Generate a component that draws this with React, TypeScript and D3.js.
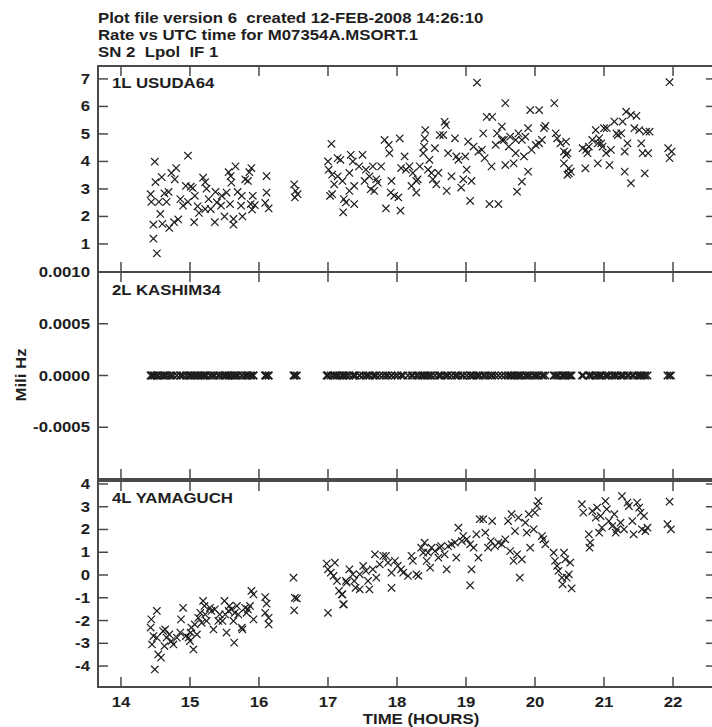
import React from "react";
import * as d3 from "d3";

// ---- data ----
const titleLines = [
  "Plot file version 6  created 12-FEB-2008 14:26:10",
  "Rate vs UTC time for M07354A.MSORT.1",
  "SN 2  Lpol  IF 1",
];
const hourTicks = [14, 15, 16, 17, 18, 19, 20, 21, 22];
const usudaTicks = [1, 2, 3, 4, 5, 6, 7];
const kashimaTicks = [-0.0005, 0, 0.0005, 0.001];
const yamaguchTicks = [-4, -3, -2, -1, 0, 1, 2, 3, 4];

// [UTC hours, mHz]
const usuda64: [number, number][] = [
  [14.49, 3.99], [14.5, 3.25], [14.59, 3.43], [14.43, 2.81], [14.44, 2.53], [14.55, 2.53],
  [14.57, 2.09], [14.47, 1.7], [14.6, 1.73], [14.47, 1.19], [14.52, 0.66], [14.63, 2.84],
  [14.69, 2.89], [14.66, 2.53], [14.7, 1.58], [14.77, 1.79], [14.83, 1.89], [14.73, 3.58],
  [14.8, 3.76], [14.78, 3.35], [14.86, 2.63], [14.9, 2.39], [14.97, 4.21], [14.94, 3.11],
  [15.01, 3.08], [15.04, 3.03], [14.97, 2.53], [15.07, 2.75], [15.06, 1.79], [15.11, 2.37],
  [15.13, 2.13], [15.19, 3.41], [15.22, 3.25], [15.24, 3.01], [15.27, 2.63], [15.22, 2.27],
  [15.3, 2.27], [15.36, 1.79], [15.37, 2.89], [15.39, 2.51], [15.45, 2.39], [15.46, 2.75],
  [15.5, 2.0], [15.53, 2.87], [15.56, 3.61], [15.59, 3.47], [15.66, 3.82], [15.6, 3.23],
  [15.58, 2.45], [15.63, 1.91], [15.63, 1.7], [15.69, 2.89], [15.75, 2.75], [15.74, 2.39],
  [15.76, 2.0], [15.8, 3.35], [15.84, 3.29], [15.86, 3.61], [15.89, 3.76], [15.91, 2.75],
  [15.9, 2.25], [15.94, 2.41], [15.88, 2.45], [16.11, 3.47], [16.11, 2.87], [16.09, 2.49],
  [16.14, 2.29], [16.51, 3.17], [16.53, 2.93], [16.52, 2.69], [16.56, 2.81],
  [17.05, 4.64], [17.0, 4.0], [17.01, 3.7], [17.06, 3.52], [17.09, 3.17], [17.06, 2.81],
  [17.03, 2.75], [17.14, 4.12], [17.18, 4.06], [17.14, 3.46], [17.21, 3.29], [17.23, 2.63],
  [17.26, 2.51], [17.22, 2.15], [17.33, 4.24], [17.36, 4.0], [17.31, 3.58], [17.38, 3.11],
  [17.31, 2.93], [17.38, 2.45], [17.5, 4.24], [17.45, 3.82], [17.55, 3.7], [17.53, 3.29],
  [17.6, 3.46], [17.65, 3.82], [17.7, 3.35], [17.72, 3.23], [17.67, 2.93], [17.62, 2.99],
  [17.77, 3.82], [17.82, 4.78], [17.88, 4.6], [17.89, 4.3], [17.84, 2.29], [17.92, 3.29],
  [17.91, 2.87], [17.96, 2.75], [18.02, 2.69], [18.04, 4.84], [18.05, 2.21], [18.06, 3.76],
  [18.11, 4.18], [18.13, 3.7], [18.18, 3.82], [18.23, 3.58], [18.21, 3.11], [18.28, 3.29],
  [18.28, 2.87], [18.3, 3.35], [18.33, 3.82], [18.38, 4.3], [18.4, 4.84], [18.41, 5.14],
  [18.39, 4.54], [18.47, 4.06], [18.5, 3.58], [18.52, 3.35], [18.45, 3.7], [18.55, 4.48],
  [18.57, 3.17], [18.6, 3.58], [18.62, 4.96], [18.67, 4.96], [18.69, 5.44], [18.71, 5.32],
  [18.72, 2.93], [18.74, 4.3], [18.79, 3.46], [18.84, 4.84], [18.86, 4.18], [18.89, 4.06],
  [18.93, 3.05], [18.96, 3.35], [18.99, 4.18], [19.01, 3.7], [19.03, 4.72], [19.06, 2.57],
  [19.08, 3.29], [19.11, 4.54], [19.16, 6.87], [19.18, 4.36], [19.23, 4.42], [19.25, 5.02],
  [19.27, 4.12], [19.3, 5.62], [19.34, 2.45], [19.38, 5.62], [19.37, 3.82], [19.43, 4.6],
  [19.45, 5.02], [19.47, 2.45],
  [19.57, 6.12], [19.52, 5.27], [19.55, 4.78], [19.62, 4.54], [19.64, 4.9], [19.72, 4.78],
  [19.76, 5.02], [19.81, 4.78], [19.86, 4.9], [19.93, 5.87], [20.06, 5.87], [19.9, 5.21],
  [20.01, 4.6], [20.06, 4.66], [20.13, 5.21], [20.15, 5.29], [20.1, 4.78], [19.95, 4.42],
  [19.9, 3.63], [19.81, 3.27], [19.74, 2.9], [19.72, 4.3], [19.84, 4.18], [19.69, 3.93],
  [19.57, 3.87], [19.52, 4.78], [20.28, 6.12], [20.3, 5.02], [20.32, 4.84], [20.37, 4.66],
  [20.45, 4.72], [20.42, 4.36], [20.45, 4.24], [20.47, 4.3], [20.42, 3.93], [20.49, 3.75],
  [20.49, 3.57], [20.47, 3.51], [20.52, 3.63], [20.73, 3.75], [20.69, 4.48], [20.74, 4.42],
  [20.76, 4.3], [20.78, 4.54], [20.83, 4.78], [20.88, 5.14], [20.91, 4.66], [20.93, 4.84],
  [20.96, 4.66], [21.0, 5.21], [21.04, 5.21], [20.98, 4.54], [21.03, 4.3], [20.91, 3.93],
  [21.08, 3.87], [21.1, 4.42], [21.15, 5.45], [21.18, 5.02], [21.2, 4.96], [21.25, 5.02],
  [21.27, 5.45], [21.32, 5.81], [21.39, 5.69], [21.47, 5.66], [21.3, 4.36], [21.34, 4.66],
  [21.39, 3.21], [21.3, 3.63], [21.44, 5.21], [21.51, 5.14], [21.54, 4.66], [21.56, 4.3],
  [21.59, 3.57], [21.61, 5.08], [21.64, 4.3], [21.66, 5.08], [21.93, 4.48], [21.95, 4.12],
  [21.98, 4.36], [21.95, 6.88],
];

const yamaguch: [number, number][] = [
  [14.52, -1.58], [14.44, -1.95], [14.43, -2.31], [14.47, -2.68], [14.45, -3.05], [14.52, -2.75],
  [14.54, -3.49], [14.58, -3.63], [14.49, -4.15], [14.61, -2.46], [14.64, -2.39], [14.66, -2.75],
  [14.7, -2.61], [14.73, -2.9], [14.76, -3.05], [14.63, -3.12], [14.81, -2.75], [14.86, -2.53],
  [14.87, -1.95], [14.9, -1.44], [14.94, -2.68], [14.98, -2.75], [15.0, -2.9], [15.01, -2.53],
  [15.05, -3.27], [15.02, -2.31], [15.07, -2.17], [15.1, -2.61], [15.12, -1.88], [15.15, -1.66],
  [15.17, -2.1], [15.19, -1.14], [15.21, -1.36], [15.22, -1.73], [15.24, -2.02], [15.29, -1.44],
  [15.31, -1.58], [15.34, -2.39], [15.36, -1.51], [15.41, -2.02], [15.43, -1.73], [15.5, -1.14],
  [15.47, -2.02], [15.51, -1.73], [15.53, -2.53], [15.56, -1.58], [15.57, -1.36], [15.6, -1.51],
  [15.63, -2.02], [15.64, -2.97], [15.65, -1.66], [15.68, -1.36], [15.7, -1.73], [15.75, -2.31],
  [15.76, -2.39], [15.8, -1.44], [15.82, -1.66], [15.84, -1.51], [15.87, -1.36], [15.89, -0.7],
  [15.92, -0.85], [15.92, -1.95], [16.09, -0.97], [16.11, -1.26], [16.09, -1.66], [16.14, -1.88],
  [16.14, -2.17], [16.5, -0.12], [16.52, -1.0], [16.55, -1.03], [16.51, -1.55],
  [17.0, -1.66], [16.98, 0.5], [17.0, 0.25], [17.04, 0.1], [17.08, -0.04], [17.1, 0.54],
  [17.13, -0.26], [17.16, -0.7], [17.22, -1.29], [17.2, -0.85], [17.27, -0.34],
  [17.21, -0.85], [17.23, -1.29], [17.26, -0.26], [17.31, 0.25], [17.36, 0.03], [17.38, -0.26],
  [17.4, -0.56], [17.46, 0.03], [17.46, -0.63], [17.51, 0.4], [17.55, 0.18], [17.58, -0.26],
  [17.6, -0.63], [17.65, 0.25], [17.68, 0.91], [17.7, -0.12], [17.75, 0.47], [17.8, 0.84],
  [17.84, 0.84], [17.87, 0.54], [17.92, -0.56], [17.92, 0.1], [17.97, 0.62], [18.01, 0.4],
  [18.06, 0.25], [18.09, 0.1], [18.16, -0.04], [18.21, 0.84], [18.23, 0.62], [18.28, 0.03],
  [18.31, -0.04], [18.35, 1.2], [18.38, 0.98], [18.4, 1.42], [18.43, 0.62], [18.45, 0.98],
  [18.48, 0.32], [18.5, 1.2], [18.55, 1.05], [18.6, 0.76], [18.62, 1.2], [18.64, 1.27],
  [18.69, 0.91], [18.72, 0.25], [18.74, 1.27], [18.79, 1.35], [18.84, 1.42], [18.86, 0.76],
  [18.89, 2.08], [18.94, 1.49], [18.96, 1.71], [19.01, 1.57], [19.06, 1.35], [19.08, 0.25],
  [19.06, -0.45], [19.11, 1.2], [19.15, 1.79], [19.18, 0.76], [19.2, 2.45], [19.25, 2.45],
  [19.28, 1.86], [19.32, 1.2], [19.36, 1.49], [19.38, 2.37], [19.42, 1.27], [19.47, 1.42],
  [19.52, 1.35], [19.57, 1.57], [19.61, 2.37], [19.64, 1.05], [19.66, 2.67], [19.69, 0.62],
  [19.71, 1.93], [19.74, 0.91], [19.76, 2.52], [19.78, -0.12], [19.81, 0.69], [19.86, 2.3],
  [19.88, 1.86], [19.91, 2.67], [19.93, 1.2], [19.98, 2.01], [20.0, 2.74], [20.03, 3.03],
  [20.05, 3.25], [20.1, 1.71], [20.12, 1.57], [20.15, 1.35], [20.27, 0.98], [20.29, 0.62],
  [20.32, 0.4], [20.34, 0.18], [20.39, -0.12], [20.4, -0.41], [20.42, 0.98], [20.44, 0.69],
  [20.46, -0.12], [20.49, 0.03], [20.51, 0.54], [20.53, -0.59], [20.68, 3.11], [20.7, 2.74],
  [20.78, 1.79], [20.79, 1.2], [20.8, 1.42], [20.83, 2.81], [20.88, 2.52], [20.9, 2.96],
  [20.93, 1.86], [20.95, 2.59], [20.97, 2.08], [21.02, 3.25], [21.04, 2.89], [21.07, 2.37],
  [21.12, 2.15], [21.15, 2.67], [21.17, 1.86], [21.19, 2.01], [21.24, 2.3], [21.26, 3.47],
  [21.29, 2.01], [21.34, 3.18], [21.36, 3.03], [21.41, 2.37], [21.43, 1.79], [21.48, 3.18],
  [21.51, 2.96], [21.53, 2.74], [21.55, 2.01], [21.58, 2.59], [21.6, 1.93], [21.63, 2.08],
  [21.95, 3.22], [21.92, 2.23], [21.97, 2.01],
];

// KASHIM34 is the reference antenna: rate is zero at every scan time
const kashim34: [number, number][] = yamaguch.map(([t]) => [t, 0]);

// ---- layout ----
const W = 712;
const H = 727;
const left = 98;
const right = 714;
const ink = "#1e1e1e";
const frame = "#4a4a4a";

const x = d3.scaleLinear().domain([13.667, 22.594]).range([left, right]);

const fixed4 = d3.format(".4f");
const panels = [
  { label: "1L USUDA64", top: 66, bottom: 272, labelY: 88, domain: [-0.02, 7.47], ticks: usudaTicks, fmt: (d: number) => String(d), data: usuda64, sw: 1.2 },
  { label: "2L KASHIM34", top: 272, bottom: 479, labelY: 295, domain: [-0.001, 0.001], ticks: kashimaTicks, fmt: (d: number) => fixed4(d).replace("\u2212", "-"), data: kashim34, sw: 1.6 },
  { label: "4L YAMAGUCH", top: 481, bottom: 687, labelY: 503, domain: [-4.92, 4.13], ticks: yamaguchTicks, fmt: (d: number) => String(d), data: yamaguch, sw: 1.2 },
];

const cross = "M-3.7,-3.7L3.7,3.7M-3.7,3.7L3.7,-3.7";

function Txt(props: { x: number; y: number; anchor?: string; rotate?: boolean; children: React.ReactNode }) {
  const rot = props.rotate ? " rotate(-90)" : "";
  return (
    <text
      transform={`translate(${props.x},${props.y})${rot} scale(1.2,1)`}
      textAnchor={props.anchor || "start"}
      fontFamily="'Liberation Sans', Arial, sans-serif"
      fontWeight="bold"
      fontSize={14}
      fill={ink}
      style={{ whiteSpace: "pre" }}
    >
      {props.children}
    </text>
  );
}

export default function App() {
  return (
    <svg width={W} height={H} style={{ position: "absolute", left: 0, top: 0, background: "#fff" }}>
      {titleLines.map((t, i) => (
        <Txt key={t} x={98} y={22.5 + i * 17}>{t}</Txt>
      ))}

      {panels.map((p) => {
        const y = d3.scaleLinear().domain(p.domain).range([p.bottom, p.top]);
        return (
          <g key={p.label}>
            <rect x={left} y={p.top} width={right - left} height={p.bottom - p.top} fill="none" stroke={frame} strokeWidth={2} />
            {hourTicks.map((h) => (
              <g key={h} stroke={frame} strokeWidth={1.5}>
                <line x1={x(h)} x2={x(h)} y1={p.top} y2={p.top + 10} />
                <line x1={x(h)} x2={x(h)} y1={p.bottom} y2={p.bottom - 10} />
              </g>
            ))}
            {p.ticks.map((v) => (
              <g key={v}>
                <line x1={left} x2={left + 10} y1={y(v)} y2={y(v)} stroke={frame} strokeWidth={1.5} />
                <line x1={right} x2={right - 8} y1={y(v)} y2={y(v)} stroke={frame} strokeWidth={1.5} />
                <Txt x={90} y={y(v) + 5} anchor="end">{p.fmt(v)}</Txt>
              </g>
            ))}
            <Txt x={112} y={p.labelY}>{p.label}</Txt>
            <g stroke={ink} strokeWidth={p.sw} fill="none">
              {p.data.map(([t, v], i) => (
                <path key={i} d={cross} transform={`translate(${x(t)},${y(v)})`} />
              ))}
            </g>
          </g>
        );
      })}

      {hourTicks.map((h) => (
        <Txt key={h} x={x(h)} y={707} anchor="middle">{h}</Txt>
      ))}
      <Txt x={421} y={724} anchor="middle">TIME (HOURS)</Txt>
      <Txt x={26} y={375} anchor="middle" rotate>Mili Hz</Txt>
    </svg>
  );
}
